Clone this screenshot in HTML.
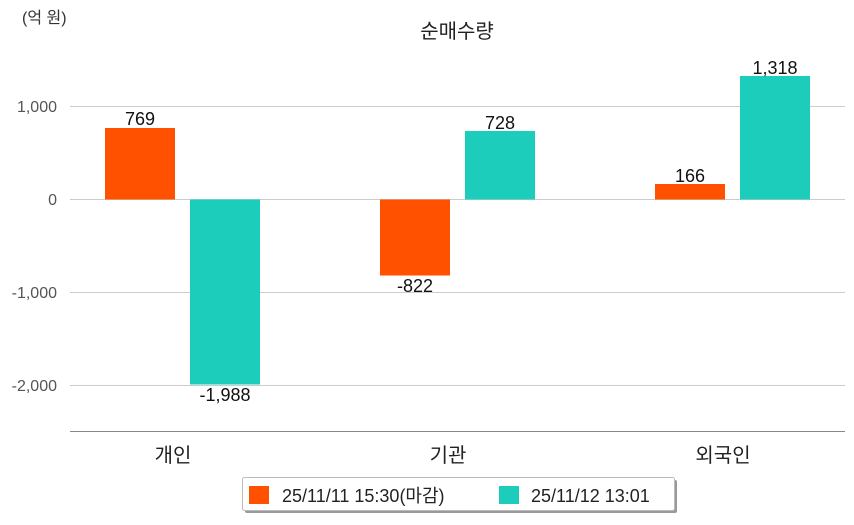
<!DOCTYPE html>
<html><head><meta charset="utf-8"><style>
html,body{margin:0;padding:0;background:#fff;}
text{font-family:"Liberation Sans","Noto Sans CJK KR",sans-serif;}
</style></head><body>
<svg width="854" height="520" xmlns="http://www.w3.org/2000/svg">
<text x="22" y="23" font-size="16" fill="#333">(억 원)</text>
<text x="457" y="38" font-size="20" fill="#222" text-anchor="middle">순매수량</text>
<g stroke="#cccccc" stroke-width="1">
<line x1="70" y1="106.5" x2="845" y2="106.5"/>
<line x1="70" y1="199.5" x2="845" y2="199.5"/>
<line x1="70" y1="292.5" x2="845" y2="292.5"/>
<line x1="70" y1="385.5" x2="845" y2="385.5"/>
</g>
<line x1="70" y1="431.5" x2="845" y2="431.5" stroke="#888" stroke-width="1"/>
<g font-size="16" fill="#555" text-anchor="end">
<text x="57" y="112">1,000</text>
<text x="57" y="205">0</text>
<text x="57" y="298">-1,000</text>
<text x="57" y="391">-2,000</text>
</g>
<g fill="#ff5100">
<rect x="105" y="128" width="70" height="71.5"/>
<rect x="380" y="199.5" width="70" height="76"/>
<rect x="655" y="184" width="70" height="15.5"/>
</g>
<g fill="#1dcdbb">
<rect x="190" y="199.5" width="70" height="185"/>
<rect x="465" y="131" width="70" height="68.5"/>
<rect x="740" y="76" width="70" height="123.5"/>
</g>
<g font-size="18" fill="#111" text-anchor="middle" font-weight="bold" style="font-weight:500">
<text x="140" y="125">769</text>
<text x="225" y="401">-1,988</text>
<text x="415" y="292">-822</text>
<text x="500" y="129">728</text>
<text x="690" y="182">166</text>
<text x="775" y="74">1,318</text>
</g>
<g font-size="20" fill="#222" text-anchor="middle">
<text x="173" y="462">개인</text>
<text x="448" y="462">기관</text>
<text x="723" y="462">외국인</text>
</g>
<rect x="245" y="480" width="432" height="33" fill="#999" rx="2"/>
<rect x="242.5" y="477.5" width="432" height="33" fill="#fff" stroke="#bbb" rx="2"/>
<rect x="249" y="486" width="20" height="18" fill="#ff5100"/>
<text x="282" y="502" font-size="18" fill="#222">25/11/11 15:30(마감)</text>
<rect x="499" y="486" width="20" height="18" fill="#1dcdbb"/>
<text x="531" y="502" font-size="18" fill="#222">25/11/12 13:01</text>
</svg>
</body></html>
